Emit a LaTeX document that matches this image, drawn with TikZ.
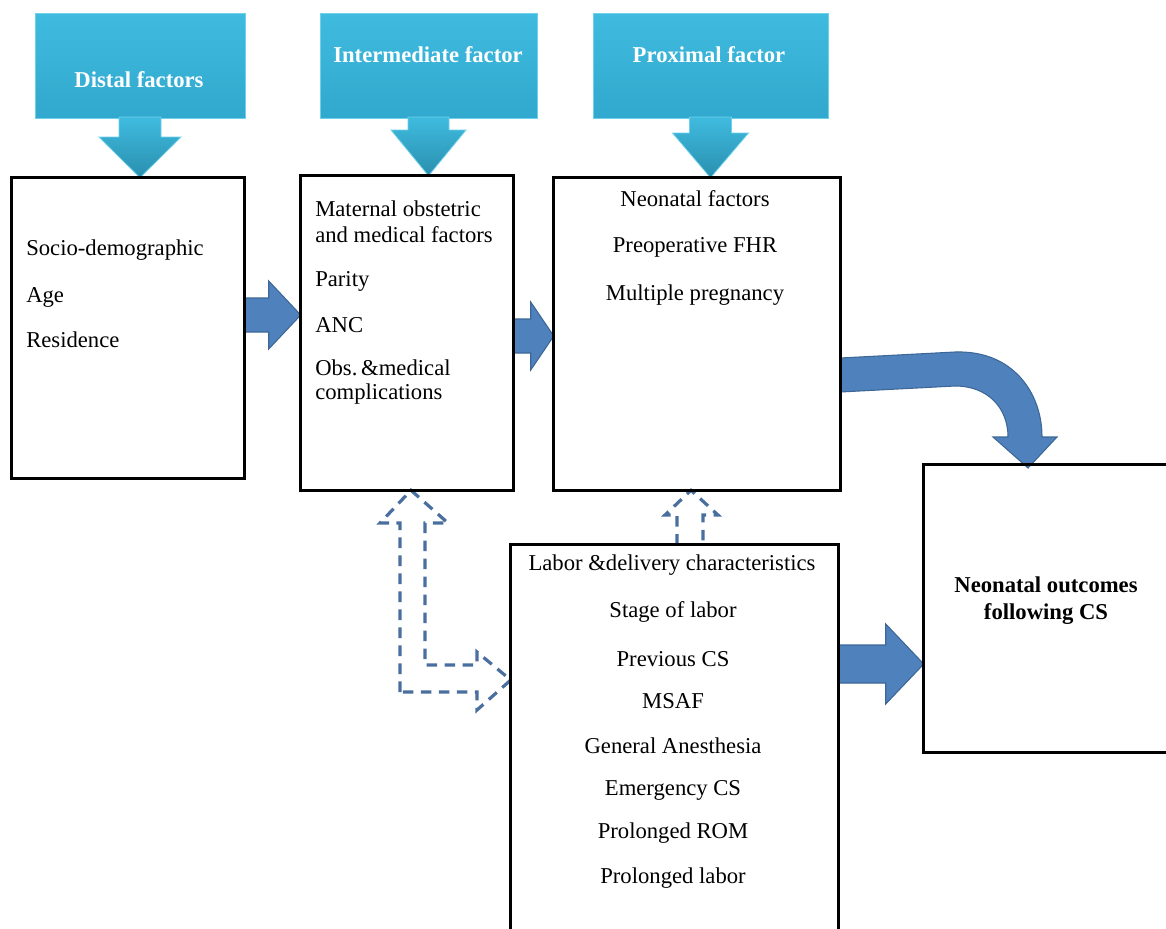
\documentclass[tikz,border=0pt]{standalone}
\usepackage{fontspec}
\setmainfont{Liberation Serif}
\usetikzlibrary{
  calc,
  fit,
  positioning,
}
\definecolor{calltop}{HTML}{3FBBDF}
\definecolor{callbot}{HTML}{31A8CD}
\definecolor{callline}{HTML}{6FD0EC}
\definecolor{arrowblue}{HTML}{4F81BD}
\definecolor{arrowline}{HTML}{3C6796}
\definecolor{dashblue}{HTML}{4A6E9E}
\tikzset{
  x = 0.75pt,
  y = -0.75pt,
  box/.style={draw, line width=2pt, inner sep=0pt, outer sep=0pt},
  callbox/.style={top color=calltop, bottom color=callbot, draw=callline,
    line width=0.6pt, inner sep=0pt, outer sep=0pt},
  calltip/.style={top color=calltop, bottom color=callbot!85!black,
    draw=callline, line width=0.6pt},
  calltxt/.style={text=white, font=\bfseries, inner sep=0pt},
  txt/.style={inner sep=0pt, anchor=west},
  ctxt/.style={inner sep=0pt},
  blockarrow/.style={fill=arrowblue, draw=arrowline, line width=0.8pt, line join=miter},
  openarrow/.style={draw=dashblue, dash pattern=on 8pt off 5.5pt, line width=2.4pt},
}
% callout arrow: #1 callout, #2 box, #3 stem half, #4 head half, #5 stem length
\newcommand\calloutarrow[5]{%
  \path[calltip] ($(#1.south)+(-#3,-1)$) -- ($(#1.south)+(-#3,#5)$)
    -- ($(#1.south)+(-#4,#5)$) -- (#1.south |- #2.north)
    -- ($(#1.south)+(#4,#5)$) -- ($(#1.south)+(#3,#5)$)
    -- ($(#1.south)+(#3,-1)$) -- cycle;}
% block arrow: #1 start, #2 tip, #3 stem half, #4 head half, #5 head length
\newcommand\blockarrow[5]{%
  \path[blockarrow] ($(#1)+(0,-#3)$) -- ($(#2)+(-#5,-#3)$) -- ($(#2)+(-#5,-#4)$)
    -- (#2) -- ($(#2)+(-#5,#4)$) -- ($(#2)+(-#5,#3)$) -- ($(#1)+(0,#3)$) -- cycle;}

\begin{document}
\begin{tikzpicture}
  \useasboundingbox (0,0) rectangle (1166,928);
  \clip (0,0) rectangle (1166,928);
  \fontsize{17}{20.5}\selectfont
  %% callouts
  \node[callbox, fit={(35,13) (245,118)}](dist){};
  \node[callbox, fit={(320,13) (537,118)}](inter){};
  \node[callbox, fit={(593,13) (828,118)}](prox){};
  \node[calltxt] at (139,80) {Distal factors};
  \node[calltxt] at (428,55) {Intermediate factor};
  \node[calltxt] at (709,55) {Proximal factor};
  %% boxes (outline only, drawn later on top)
  \path (12,178) coordinate (socA) (244,478) coordinate (socB)
        (301,176) coordinate (matA) (513,490) coordinate (matB)
        (554,178) coordinate (neoA) (840,490) coordinate (neoB)
        (511,545) coordinate (labA) (838,940) coordinate (labB)
        (924,465) coordinate (outA) (1172,752) coordinate (outB);
  \node[inner sep=0pt, fit=(socA)(socB)](soc){};
  \node[inner sep=0pt, fit=(matA)(matB)](mat){};
  \node[inner sep=0pt, fit=(neoA)(neoB)](neo){};
  \node[inner sep=0pt, fit=(labA)(labB)](lab){};
  \node[inner sep=0pt, fit=(outA)(outB)](out){};
  %%
  \calloutarrow{dist}{soc}{21}{41}{19}
  \calloutarrow{inter}{mat}{20.5}{37.5}{12}
  \calloutarrow{prox}{neo}{21}{38}{15}
  %% block arrows
  \coordinate (y1) at (0,315);
  \coordinate (y2) at (0,336);
  \coordinate (y3) at (0,664);
  \blockarrow{soc.east |- y1}{mat.west |- y1}{17}{34}{32}
  \blockarrow{mat.east |- y2}{neo.west |- y2}{17}{34}{23}
  \blockarrow{lab.east |- y3}{out.west |- y3}{19}{40}{38}
  %% curved arrow
  \coordinate (cs) at (neo.east |- 0,375);
  \coordinate (ce) at (1028,468);
  \path[blockarrow] ($(cs)+(0,-17)$) -- (955,352)
    .. controls (1012,350) and (1042,392) .. (1042,437) -- (1057,437) -- (ce)
    -- (993,437) -- (1008,437) .. controls (1008,408) and (988,386) .. (955,386)
    -- ($(cs)+(0,17)$) -- cycle;
  %% dashed open arrows
  \path[openarrow] (400,692) -- (400,523) -- (380,523) -- (mat.south -| 411,0)
    -- (448,523) -- (425,523) -- (425,665) -- (477,665) -- (477,652)
    -- (lab.west |- 0,680) -- (477,710) -- (477,692) -- cycle;
  \path[openarrow] (lab.north -| 677,0) -- (677,515) -- (665,515)
    -- (neo.south -| 691,0) -- (718,515) -- (703,515) -- (lab.north -| 703,0);
  %% box outlines
  \foreach \b in {soc,mat,neo,lab,out}
    \draw[box] (\b.north west) rectangle (\b.south east);
  %% texts
  \node[txt] at (26,250) {Socio-demographic};
  \node[txt] at (26,297) {Age};
  \node[txt] at (26,340) {Residence};
  %%
  \node[txt] at (315,209) {Maternal obstetric};
  \node[txt] at (315,235) {and medical factors};
  \node[txt] at (315,281) {Parity};
  \node[txt] at (315,325) {ANC};
  \node[txt] at (315,368) {Obs.\,\&medical};
  \node[txt] at (315,394) {complications};
  %%
  \node[ctxt] at (695,199) {Neonatal factors};
  \node[ctxt] at (695,247) {Preoperative FHR};
  \node[ctxt] at (695,295) {Multiple pregnancy};
  %%
  \node[ctxt] at (672,565) {Labor \&delivery characteristics};
  \node[ctxt] at (673,612) {Stage of labor};
  \node[ctxt] at (673,659) {Previous CS};
  \node[ctxt] at (673,701) {MSAF};
  \node[ctxt] at (673,746) {General Anesthesia};
  \node[ctxt] at (673,790) {Emergency CS};
  \node[ctxt] at (673,833) {Prolonged ROM};
  \node[ctxt] at (673,878) {Prolonged labor};
  %%
  \node[ctxt, font=\bfseries] at (1046,585) {Neonatal outcomes};
  \node[ctxt, font=\bfseries] at (1046,614) {following CS};
\end{tikzpicture}
\end{document}
